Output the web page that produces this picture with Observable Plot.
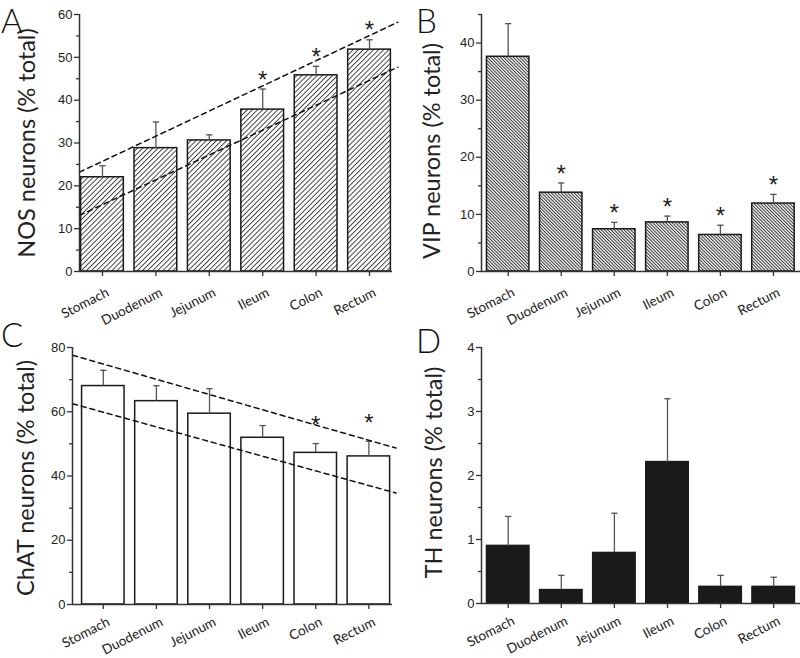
<!DOCTYPE html>
<html><head><meta charset="utf-8">
<script src="https://cdn.jsdelivr.net/npm/d3@7"></script>
<script src="https://cdn.jsdelivr.net/npm/@observablehq/plot@0.6"></script>
<style>
html,body{margin:0;padding:0;background:#fff;}
body{width:800px;height:658px;position:relative;overflow:hidden;}
.panel{position:absolute;}
.letter{position:absolute;font-family:Lato,"Open Sans",sans-serif;font-weight:300;font-size:33px;line-height:40px;color:#111;}
</style></head>
<body>
<div id="pA" class="panel" style="left:0;top:0"></div>
<div id="pB" class="panel" style="left:400px;top:0"></div>
<div id="pC" class="panel" style="left:0;top:330px"></div>
<div id="pD" class="panel" style="left:400px;top:330px"></div>
<div class="letter" style="left:1px;top:0px">A</div>
<div class="letter" style="left:416px;top:0px">B</div>
<div class="letter" style="left:1px;top:314px">C</div>
<div class="letter" style="left:416px;top:320px">D</div>
<script>
// ---- data ----
const regions = ["Stomach", "Duodenum", "Jejunum", "Ileum", "Colon", "Rectum"];
const regionIndex = [0, 1, 2, 3, 4, 5];

const nosMean = [22.0, 28.8, 30.6, 37.8, 45.8, 51.8];
const nosSem  = [2.7, 6.1, 1.3, 4.8, 2.1, 2.3];
const nosSig  = [false, false, false, true, true, true];
const nosTicks = [0, 10, 20, 30, 40, 50, 60];
const nosMinor = [5, 15, 25, 35, 45, 55];
// regression confidence band (dashed) read at the band's ends
const nosBandX = [-0.43, 5.53];
const nosBandUpper = [23.2, 58.2];
const nosBandLower = [13.1, 47.7];

const vipMean = [37.6, 13.8, 7.4, 8.6, 6.4, 11.9];
const vipSem  = [5.8, 1.7, 1.2, 1.1, 1.7, 1.6];
const vipSig  = [false, true, true, true, true, true];
const vipTicks = [0, 10, 20, 30, 40];
const vipMinor = [5, 15, 25, 35, 45];

const chatMean = [68.0, 63.3, 59.4, 51.9, 47.2, 46.1];
const chatSem  = [4.9, 4.8, 7.8, 3.8, 2.9, 4.7];
const chatSig  = [false, false, false, false, true, true];
const chatTicks = [0, 20, 40, 60, 80];
const chatMinor = [10, 30, 50, 70];
const chatBandX = [-0.58, 5.51];
const chatBandUpper = [77.6, 48.7];
const chatBandLower = [62.5, 34.7];

const thMean = [0.90, 0.21, 0.79, 2.21, 0.26, 0.26];
const thSem  = [0.46, 0.23, 0.62, 0.99, 0.18, 0.15];
const thSig  = [false, false, false, false, false, false];
const thTicks = [0, 1, 2, 3, 4];
const thMinor = [0.5, 1.5, 2.5, 3.5];

// ---- drawing ----
const numFont = '"Liberation Sans", Arial, sans-serif';
const labelFont = 'Lato, "Open Sans", sans-serif';

function panel(cfg) {
  const rows = regions.map((r, i) => ({i: regionIndex[i], region: r, mean: cfg.mean[i], sem: cfg.sem[i], sig: cfg.sig[i]}));
  const top = d => d.mean + d.sem;
  const marks = [
    Plot.rect(rows, {x1: d => d.i - 0.4, x2: d => d.i + 0.4, y1: 0, y2: "mean", fill: cfg.fill, stroke: "#1a1a1a", strokeWidth: 1.5}),
    Plot.ruleX(rows, {x: "i", y1: "mean", y2: top, stroke: "#555", strokeWidth: 1.3}),
    Plot.link(rows, {x1: d => d.i - 0.06, x2: d => d.i + 0.06, y1: top, y2: top, stroke: "#555", strokeWidth: 1.3}),
    Plot.text(rows.filter(d => d.sig), {x: "i", y: top, text: () => "*", fontSize: 24, fontFamily: numFont, lineAnchor: "middle", dy: cfg.starDy, fill: "#222"})
  ];
  if (cfg.bands) {
    for (const ys of [cfg.bands.upper, cfg.bands.lower]) {
      const pts = cfg.bands.x.map((x, k) => ({x, y: ys[k]}));
      marks.push(Plot.line(pts, {x: "x", y: "y", stroke: "#111", strokeWidth: 1.5, strokeDasharray: "5,4"}));
    }
  }
  marks.push(
    Plot.ruleX([cfg.xDomain[0]], {stroke: "#333", strokeWidth: 1.5}),
    Plot.ruleY([0], {stroke: "#333", strokeWidth: 1.5}),
    Plot.axisY({ticks: cfg.yTicks, tickSize: 5, tickPadding: 2, fontSize: 13, fontFamily: numFont, tickFormat: d => String(d), label: null, stroke: "#333", strokeWidth: 1.3, color: "#222"}),
    Plot.axisY({ticks: cfg.yMinor, tickSize: 3, tickFormat: () => "", label: null, stroke: "#333", strokeWidth: 1.3}),
    Plot.axisX({ticks: regionIndex, tickSize: 5, tickFormat: () => "", label: null, stroke: "#333", strokeWidth: 1.3}),
    Plot.text(rows, {x: "i", frameAnchor: "bottom", text: "region", rotate: -27, textAnchor: "end", lineAnchor: "middle", dx: 5.5, dy: cfg.labelDy, fontSize: 13.5, fontFamily: labelFont, fill: "#222"}),
    Plot.text([cfg.title], {frameAnchor: "left", text: d => d, rotate: -90, textAnchor: "middle", lineAnchor: "middle", dx: cfg.titleDx, dy: cfg.titleDy, fontSize: 23.5, fontFamily: labelFont, fill: "#222"})
  );
  const svg = Plot.plot({
    width: cfg.width, height: cfg.height,
    marginLeft: cfg.ml, marginRight: cfg.mr, marginTop: cfg.mt, marginBottom: cfg.mb,
    x: {type: "linear", domain: cfg.xDomain, axis: null},
    y: {domain: cfg.yDomain, axis: null},
    style: {background: "white", overflow: "visible", fontFamily: numFont},
    marks
  });
  d3.select(svg).insert("defs", ":first-child").html(`
    <pattern id="hatchA" patternUnits="userSpaceOnUse" width="3.6" height="3.6" patternTransform="rotate(45)">
      <rect width="3.6" height="3.6" fill="white"/>
      <line x1="0.5" y1="0" x2="0.5" y2="3.6" stroke="#333" stroke-width="0.9"/>
    </pattern>
    <pattern id="hatchB" patternUnits="userSpaceOnUse" width="2.3" height="2.3" patternTransform="rotate(-45)">
      <rect width="2.3" height="2.3" fill="white"/>
      <line x1="0.5" y1="0" x2="0.5" y2="2.3" stroke="#333" stroke-width="1.05"/>
    </pattern>`);
  document.getElementById(cfg.el).appendChild(svg);
}

panel({el: "pA", mean: nosMean, sem: nosSem, sig: nosSig, yDomain: [0, 60], yTicks: nosTicks, yMinor: nosMinor,
  title: "NOS neurons (% total)", titleDx: -52, titleDy: 0, fill: "url(#hatchA)", starDy: -9, labelDy: 20,
  bands: {x: nosBandX, upper: nosBandUpper, lower: nosBandLower},
  xDomain: [-0.43, 5.43], width: 400, height: 330, ml: 79, mr: 8, mt: 14, mb: 59});

panel({el: "pB", mean: vipMean, sem: vipSem, sig: vipSig, yDomain: [0, 45], yTicks: vipTicks, yMinor: vipMinor,
  title: "VIP neurons (% total)", titleDx: -49, titleDy: 8, fill: "url(#hatchB)", starDy: -9, labelDy: 20,
  xDomain: [-0.503, 5.51], width: 400, height: 330, ml: 81, mr: 0, mt: 14, mb: 59});

panel({el: "pC", mean: chatMean, sem: chatSem, sig: chatSig, yDomain: [0, 80], yTicks: chatTicks, yMinor: chatMinor,
  title: "ChAT neurons (% total)", titleDx: -46, titleDy: 2, fill: "white", starDy: -18, labelDy: 16.5,
  bands: {x: chatBandX, upper: chatBandUpper, lower: chatBandLower},
  xDomain: [-0.58, 5.445], width: 400, height: 328, ml: 72, mr: 8, mt: 17, mb: 54});

panel({el: "pD", mean: thMean, sem: thSem, sig: thSig, yDomain: [0, 4], yTicks: thTicks, yMinor: thMinor,
  title: "TH neurons (% total)", titleDx: -47, titleDy: -3, fill: "#1a1a1a", starDy: -9, labelDy: 16.5,
  xDomain: [-0.503, 5.505], width: 400, height: 328, ml: 81, mr: 0, mt: 17, mb: 55});
</script>
</body></html>
